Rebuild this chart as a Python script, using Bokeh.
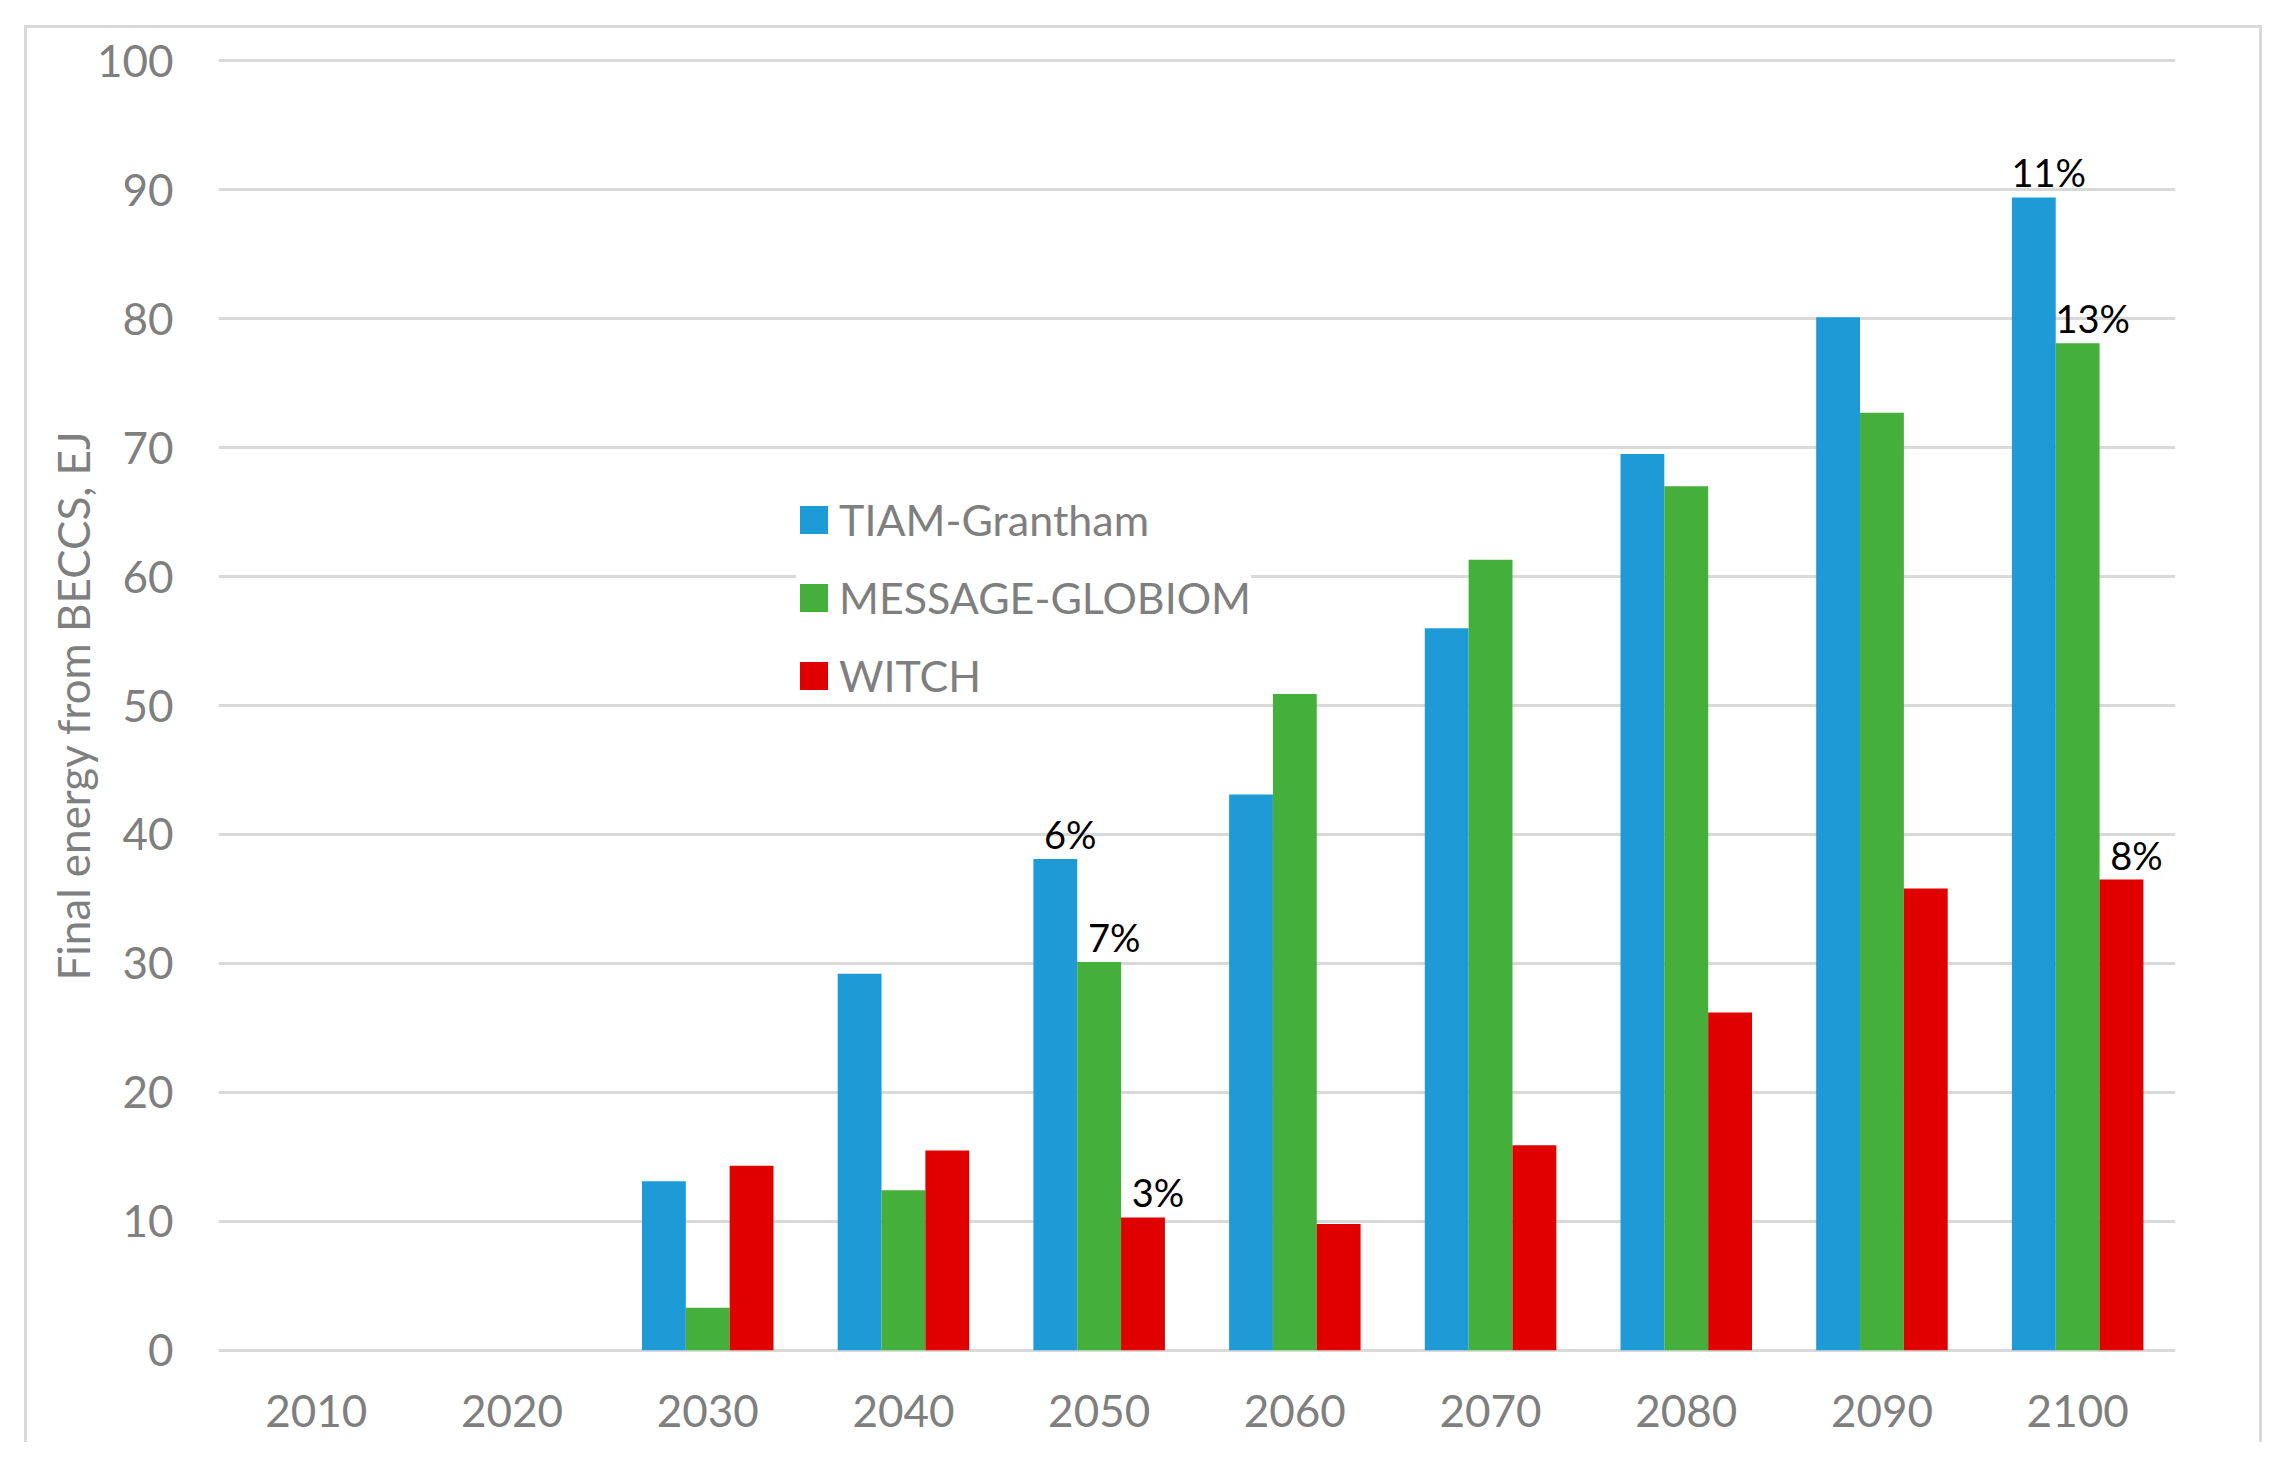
from bokeh.plotting import figure
from bokeh.models import (ColumnDataSource, FactorRange, Range1d, FixedTicker,
                          Legend, LegendItem)
from bokeh.transform import dodge
from bokeh.core.properties import value
from bokeh.embed import file_html
from bokeh.resources import INLINE

years = ["2010", "2020", "2030", "2040", "2050", "2060", "2070", "2080", "2090", "2100"]
tiam = [0, 0, 13.1, 29.2, 38.1, 43.1, 56.0, 69.5, 80.1, 89.4]
message = [0, 0, 3.3, 12.4, 30.1, 50.9, 61.3, 67.0, 72.7, 78.1]
witch = [0, 0, 14.3, 15.5, 10.3, 9.8, 15.9, 26.2, 35.8, 36.5]
tiam_labels = ["", "", "", "", "6%", "", "", "", "", "11%"]
message_labels = ["", "", "", "", "7%", "", "", "", "", "13%"]
witch_labels = ["", "", "", "", "3%", "", "", "", "", "8%"]
series_names = ["TIAM-Grantham", "MESSAGE-GLOBIOM", "WITCH"]
y_ticks = [0, 10, 20, 30, 40, 50, 60, 70, 80, 90, 100]

colors = ["#1E9BD7", "#44AF3B", "#E00000"]
GRAY = "#7F7F7F"
FONT = "Lato"

src = ColumnDataSource(dict(years=years, tiam=tiam, message=message, witch=witch,
                            tl=tiam_labels, ml=message_labels, wl=witch_labels))

W, H = 2238, 1417
p = figure(width=W, height=H, x_range=FactorRange(*years), y_range=Range1d(-0.25, 100.25),
           output_backend="svg", toolbar_location=None,
           min_border_left=191, min_border_right=90, min_border_top=29, min_border_bottom=92)
p.margin = (25, 0, 0, 24)
BORDER = "3px solid #D9D9D9"
p.styles = {"border-top": BORDER, "border-left": BORDER, "border-right": BORDER}
p.outline_line_color = None
p.background_fill_color = "white"
p.border_fill_color = "white"
p.x_range.range_padding = 0
p.x_range.group_padding = 0

bw = 0.224
offs = [-bw, 0.0, bw]
cols = ["tiam", "message", "witch"]
lcols = ["tl", "ml", "wl"]
renderers = []
for c, o, col, lc in zip(cols, offs, colors, lcols):
    r = p.vbar(x=dodge("years", o, range=p.x_range), top=c, bottom=0, width=bw, source=src,
               fill_color=col, line_color=None)
    renderers.append(r)
    p.text(x=dodge("years", o, range=p.x_range), y=c, text=lc, source=src,
           text_font=value(FONT), text_font_size="38px", text_color="black",
           text_align="center", text_baseline="alphabetic", x_offset=15, y_offset=-25)

# axes
p.yaxis.ticker = FixedTicker(ticks=y_ticks)
for ax in (p.xaxis[0], p.yaxis[0]):
    ax.axis_line_color = None
    ax.major_tick_line_color = None
    ax.minor_tick_line_color = None
    ax.major_tick_out = 0
    ax.major_tick_in = 0
    ax.minor_tick_out = 0
    ax.minor_tick_in = 0
    ax.major_label_text_font = FONT
    ax.major_label_text_font_size = "44px"
    ax.major_label_text_color = GRAY
p.yaxis.major_label_standoff = 45
p.xaxis.major_label_standoff = 41
p.yaxis.axis_label = "Final energy from BECCS, EJ"
p.yaxis.axis_label_text_font = FONT
p.yaxis.axis_label_text_font_size = "44px"
p.yaxis.axis_label_text_font_style = "normal"
p.yaxis.axis_label_text_color = GRAY
p.yaxis.axis_label_standoff = -5

p.xgrid.grid_line_color = None
p.ygrid.grid_line_color = "#D9D9D9"
p.ygrid.grid_line_width = 3

legend = Legend(items=[LegendItem(label=n, renderers=[r]) for n, r in zip(series_names, renderers)],
                location=(578, 652))
legend.glyph_width = 35
legend.glyph_height = 35
legend.label_text_font = FONT
legend.label_text_font_size = "43px"
legend.label_text_color = GRAY
legend.label_standoff = 8
legend.spacing = 27
legend.padding = 20
legend.border_line_color = None
legend.background_fill_color = "white"
legend.background_fill_alpha = 1.0
p.add_layout(legend, "center")

open("out.html", "w").write(file_html(p, INLINE))
